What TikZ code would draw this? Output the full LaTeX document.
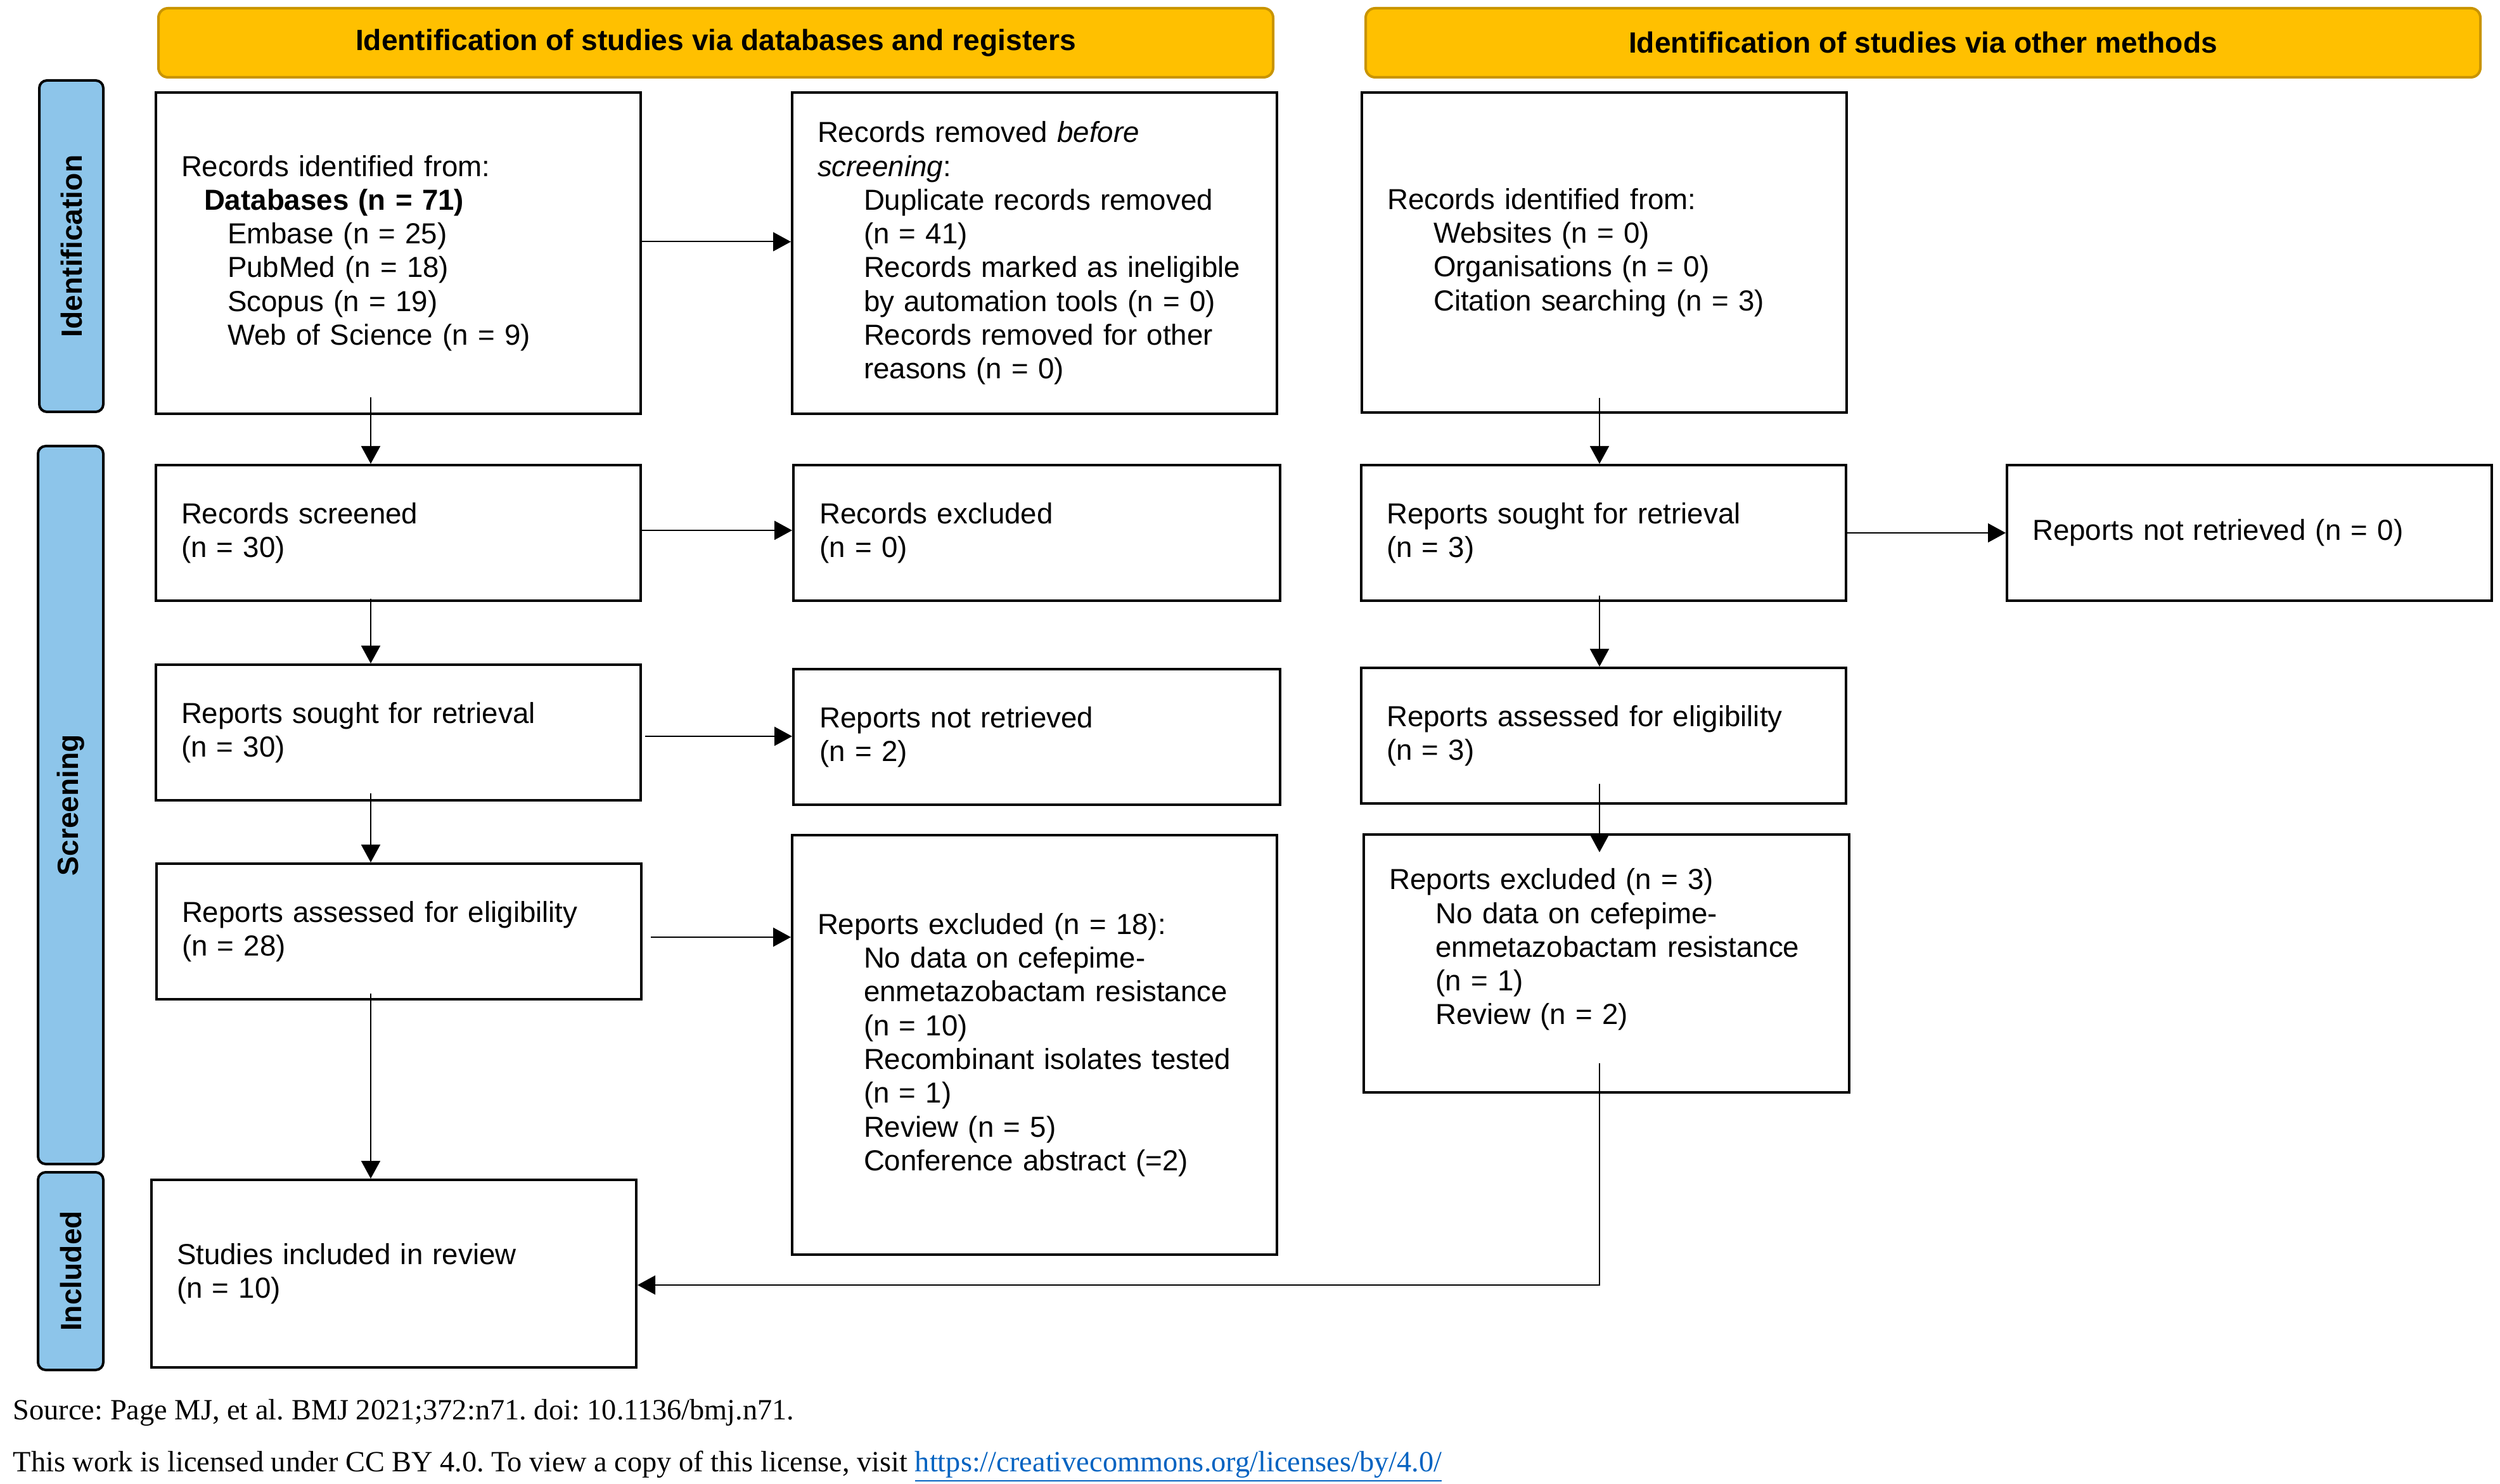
\documentclass[tikz,border=0pt]{standalone}
\usepackage{fontspec}
\setmainfont{Liberation Sans}
\newfontfamily\serifft{Liberation Serif}
\usetikzlibrary{arrows.meta,calc}
\definecolor{phaseblue}{RGB}{141,197,234}
\definecolor{hdryellow}{RGB}{255,192,0}
\definecolor{hdrborder}{RGB}{201,148,0}
\definecolor{linkblue}{RGB}{5,99,193}
\newcommand\inda{\hspace*{0.36cm}}
\newcommand\indb{\hspace*{0.73cm}}
\frenchspacing
\begin{document}
\begin{tikzpicture}[
  every node/.style={font=\fontsize{13.0}{15.16}\selectfont},
  box/.style={draw=black, line width=0.04cm, fill=white, anchor=north west,
    text width=6.85cm, align=left, inner xsep=0.4cm, inner ysep=0pt},
  hdr/.style={draw=hdrborder, fill=hdryellow, line width=0.04cm, rounded corners=0.15cm,
    anchor=north west, font=\fontsize{13.14}{15.16}\selectfont\bfseries, inner sep=0pt},
  phase/.style={draw=black, fill=phaseblue, line width=0.04cm, rounded corners=0.12cm,
    rotate=90, font=\fontsize{13.14}{15.16}\selectfont\bfseries, inner sep=0pt},
  arr/.style={-{Triangle[length=0.28cm,width=0.30cm]}, line width=0.02cm},
  foot/.style={anchor=base west, inner sep=0pt, font=\fontsize{13.2}{15.16}\selectfont\serifft}
]
\useasboundingbox (0,0) rectangle (39.45,-23.42);

% headers
\node[hdr, minimum width=17.59cm, minimum height=1.09cm] (hL) at (2.48,-0.11)
  {Identification of studies via databases and registers};
\node[hdr, minimum width=17.59cm, minimum height=1.09cm] (hR) at (21.53,-0.11)
  {Identification of studies via other methods};

% phase labels
\node[phase, minimum width=5.23cm, minimum height=1.01cm] (pId) at (1.125,-3.885) {Identification};
\node[phase, minimum width=11.33cm, minimum height=1.03cm] (pSc) at (1.115,-12.705) {Screening};
\node[phase, minimum width=3.12cm, minimum height=1.03cm] (pIn) at (1.115,-20.06) {Included};

% left column
\node[box, minimum width=7.65cm, minimum height=5.07cm] (rid) at (2.44,-1.44)
  {Records identified from:\\
   \inda\textbf{Databases (n = 71)}\\
   \indb Embase (n = 25)\\
   \indb PubMed (n = 18)\\
   \indb Scopus (n = 19)\\
   \indb Web of Science (n = 9)};
\node[box, minimum width=7.65cm, minimum height=5.07cm] (rem) at (12.48,-1.44)
  {Records removed \textit{before}\\
   \textit{screening}:\\
   \indb Duplicate records removed\\
   \indb (n = 41)\\
   \indb Records marked as ineligible\\
   \indb by automation tools (n = 0)\\
   \indb Records removed for other\\
   \indb reasons (n = 0)};
\node[box, minimum width=7.65cm, minimum height=2.14cm] (scr) at (2.44,-7.32)
  {Records screened\\(n = 30)};
\node[box, minimum width=7.68cm, minimum height=2.14cm] (exc) at (12.50,-7.32)
  {Records excluded\\(n = 0)};
\node[box, minimum width=7.65cm, minimum height=2.14cm] (sgt) at (2.44,-10.47)
  {Reports sought for retrieval\\(n = 30)};
\node[box, minimum width=7.68cm, minimum height=2.14cm] (nrt) at (12.50,-10.54)
  {Reports not retrieved\\(n = 2)};
\node[box, minimum width=7.63cm, minimum height=2.14cm] (ass) at (2.45,-13.61)
  {Reports assessed for eligibility\\(n = 28)};
\node[box, minimum width=7.65cm, minimum height=6.62cm] (exr) at (12.48,-13.16)
  {Reports excluded (n = 18):\\
   \indb No data on cefepime-\\
   \indb enmetazobactam resistance\\
   \indb (n = 10)\\
   \indb Recombinant isolates tested\\
   \indb (n = 1)\\
   \indb Review (n = 5)\\
   \indb Conference abstract (=2)};
\node[box, minimum width=7.64cm, minimum height=2.96cm] (inc) at (2.37,-18.60)
  {Studies included in review\\(n = 10)};

% right column
\node[box, minimum width=7.65cm, minimum height=5.05cm] (oth) at (21.47,-1.44)
  {Records identified from:\\
   \indb Websites (n = 0)\\
   \indb Organisations (n = 0)\\
   \indb Citation searching (n = 3)};
\node[box, minimum width=7.65cm, minimum height=2.14cm] (sgt2) at (21.46,-7.32)
  {Reports sought for retrieval\\(n = 3)};
\node[box, minimum width=7.65cm, minimum height=2.14cm] (nrt2) at (31.65,-7.32)
  {Reports not retrieved (n = 0)};
\node[box, minimum width=7.65cm, minimum height=2.14cm] (ass2) at (21.46,-10.52)
  {Reports assessed for eligibility\\(n = 3)};
\node[box, minimum width=7.66cm, minimum height=4.07cm] (exr2) at (21.50,-13.15)
  {Reports excluded (n = 3)\\
   \indb No data on cefepime-\\
   \indb enmetazobactam resistance\\
   \indb (n = 1)\\
   \indb Review (n = 2)\\[-0.16cm]
   \strut};

% column coordinates
\coordinate (cL) at (5.85,0);
\coordinate (cR) at (25.24,0);
\coordinate (jn) at (25.24,-20.28);

% arrows left
\draw[arr] ([yshift=0.18cm]rid.east) -- ([yshift=0.18cm]rid.east -| rem.west);
\draw[arr] ([yshift=0.28cm]rid.south -| cL) -- (cL |- scr.north);
\draw[arr] ([yshift=0.04cm]scr.east) -- ([yshift=0.04cm]scr.east -| exc.west);
\draw[arr] ([yshift=0.05cm]scr.south -| cL) -- (cL |- sgt.north);
\draw[arr] ([xshift=0.05cm,yshift=-0.06cm]sgt.east) -- ([yshift=-0.06cm]sgt.east -| nrt.west);
\draw[arr] ([yshift=0.13cm]sgt.south -| cL) -- (cL |- ass.north);
\draw[arr] ([xshift=0.13cm,yshift=-0.09cm]ass.east) -- ([yshift=-0.09cm]ass.east -| exr.west);
\draw[arr] ([yshift=0.11cm]ass.south -| cL) -- (cL |- inc.north);

% arrows right
\draw[arr] ([yshift=0.25cm]oth.south -| cR) -- (cR |- sgt2.north);
\draw[arr] (sgt2.east) -- (sgt2.east -| nrt2.west);
\draw[arr] ([yshift=0.10cm]sgt2.south -| cR) -- (cR |- ass2.north);
\draw[arr] ([yshift=0.33cm]ass2.south -| cR) -- ([yshift=-0.30cm]exr2.north -| cR);
\draw[arr] ([yshift=0.48cm]exr2.south -| cR) -- (jn) -- (jn -| inc.east);

% footer
\node[foot] (src) at (0.20,-22.40) {Source: Page MJ, et al. BMJ 2021;372:n71. doi: 10.1136/bmj.n71.};
\node[foot] (lic) at (0.20,-23.22) {This work is licensed under CC BY 4.0. To view a copy of this license, visit \textcolor{linkblue}{\underline{https://creativecommons.org/licenses/by/4.0/}}};
\end{tikzpicture}
\end{document}
